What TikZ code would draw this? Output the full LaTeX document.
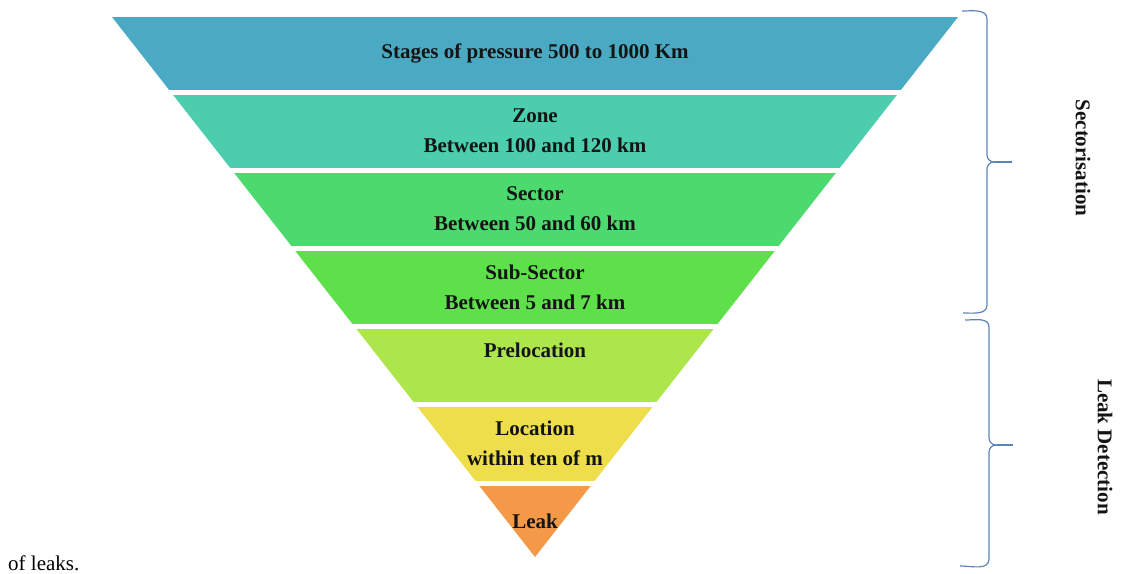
\documentclass[tikz,border=0pt]{standalone}
\usepackage{fontspec}
\setmainfont{Liberation Serif}
\usepackage{tikz}
\usetikzlibrary{positioning}
\definecolor{bleu}{RGB}{74,170,196}
\definecolor{turquoise}{RGB}{75,205,174}
\definecolor{vert}{RGB}{76,217,110}
\definecolor{vertvif}{RGB}{94,224,75}
\definecolor{vertjaune}{RGB}{173,230,74}
\definecolor{jaune}{RGB}{238,222,76}
\definecolor{orangeb}{RGB}{243,153,72}
\definecolor{accol}{RGB}{92,130,186}
\definecolor{texte}{RGB}{20,20,20}

\begin{document}
\begin{tikzpicture}[x=1pt,y=-1pt]%
        \useasboundingbox (0,0) rectangle (1135,573);%%
        \begin{scope}
        \clip (112,17) -- (958,17) -- (535,557) -- cycle;%%
        \fill[bleu] (100,17) rectangle (970,90);%%
        \fill[turquoise] (100,95) rectangle (970,168);%%
        \fill[vert] (100,173) rectangle (970,246);%%
        \fill[vertvif] (100,251) rectangle (970,324);%%
        \fill[vertjaune] (100,329) rectangle (970,402);%%
        \fill[jaune] (100,407) rectangle (970,481);%%
        \fill[orangeb] (100,486) rectangle (970,560);%%
        \end{scope}
        \begin{scope}[text=texte]
        \tikzstyle{every node}=[align=center,font=\bfseries\fontsize{21}{30}\selectfont] %%
        \node (stages) at (535,53)  {Stages of pressure 500 to 1000 Km}; %%
        \node (zone) at (535,131)  {Zone\\Between 100 and 120 km}; %%
        \node (sector) at (535,208.5)  {Sector\\Between 50 and 60 km}; %%
        \node (subsector) at (535,287)  {Sub-Sector\\Between 5 and 7 km}; %%
        \node (preloc) at (535,350)  {Prelocation}; %%
        \node (loc) at (535,443)  {Location\\within ten of m}; %%
        \node (leak) at (535,521)  {Leak}; %%
        \node[rotate=-90] (sectlab) at (1083,158)  {Sectorisation}; %%
        \node[rotate=-90] (detlab) at (1105,447)  {Leak Detection}; %%
        \end{scope}
        \draw[accol,line width=1.2] (962,11) to[out=0,in=90] (987,19) -- (987,155) to[out=-90,in=180] (994,162) to[out=180,in=90] (987,169) -- (987,305) to[out=-90,in=0] (963,313); %%
        \draw[accol,line width=1.2] (994,162) -- (1012,162); %%
        \draw[accol,line width=1.2] (965,320) to[out=0,in=90] (989,327) -- (989,438) to[out=-90,in=180] (996,445) to[out=180,in=90] (989,452) -- (989,559) to[out=-90,in=0] (960,566); %%
        \draw[accol,line width=1.2] (996,445) -- (1013,445); %%
        \node[anchor=base west,font=\fontsize{21}{25}\selectfont,inner sep=0] (caption) at (8,570) {of leaks.}; %%
\end{tikzpicture}
\end{document}
